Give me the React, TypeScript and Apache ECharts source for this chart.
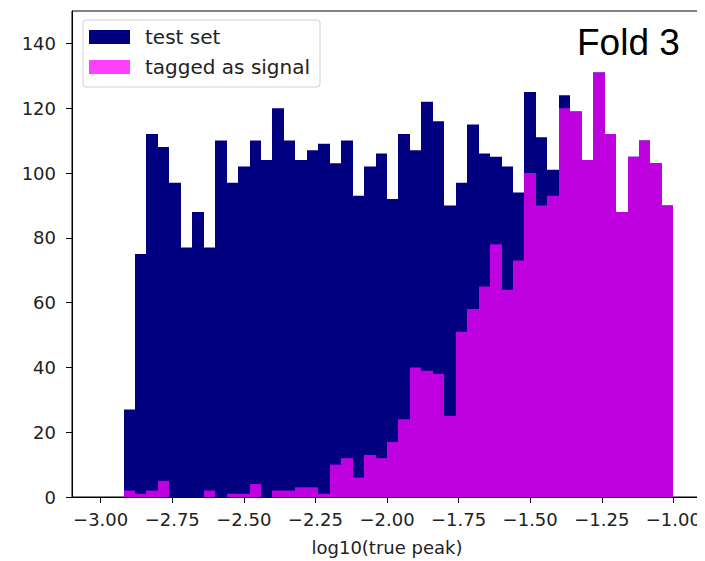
import React, { useEffect, useRef } from "react";
import * as echarts from "echarts";

// Histogram binning: 48 bins of width 0.04 starting at log10 = -2.92
const BIN_START = -2.92;
const BIN_WIDTH = 0.04;

// Counts per bin for the whole test set
const testSetCounts = [
  27, 75, 112, 108, 97, 77, 88, 77, 110, 97, 102, 110, 104, 120, 110, 104,
  107, 109, 103, 110, 93, 102, 106, 92, 112, 107, 122, 116, 90, 97, 115, 106,
  105, 102, 94, 125, 111, 101, 124, 119, 104, 131, 112, 88, 105, 110, 103, 90,
];

// Counts per bin for events tagged as signal
const signalCounts = [
  2, 1, 2, 5, 0, 0, 0, 2, 0, 1, 1, 4, 0, 2, 2, 3,
  3, 1, 10, 12, 6, 13, 12, 17, 24, 40, 39, 38, 25, 51, 58, 65,
  78, 64, 73, 100, 90, 93, 120, 119, 104, 131, 112, 88, 105, 110, 103, 90,
];

const xTicks = [-3.0, -2.75, -2.5, -2.25, -2.0, -1.75, -1.5, -1.25, -1.0];
const yTicks = [0, 20, 40, 60, 80, 100, 120, 140];

const FONT = "DejaVu Sans";
const TEXT = "#222";
const NAVY = "#000080";
// magenta at 75% opacity, as it appears over the navy bars and over white
const MAGENTA_ON_NAVY = "#bf00df";
const MAGENTA_ON_WHITE = "#ff40ff";

function toBins(counts: number[]) {
  return counts.map((c, i) => {
    const x0 = BIN_START + i * BIN_WIDTH;
    return [x0, x0 + BIN_WIDTH, c];
  });
}

function renderBin(params: any, api: any) {
  const x0 = api.value(0);
  const x1 = api.value(1);
  const c = api.value(2);
  const p0 = api.coord([x0, c]);
  const p1 = api.coord([x1, 0]);
  const left = Math.round(p0[0]);
  const right = Math.round(p1[0]);
  return {
    type: "rect",
    shape: { x: left, y: p0[1], width: right - left, height: p1[1] - p0[1] },
    style: { fill: api.visual("color") },
  };
}

export default function App() {
  const ref = useRef<HTMLDivElement>(null);

  useEffect(() => {
    if (!ref.current) return;
    const chart = echarts.init(ref.current, null, { renderer: "svg" });
    const fmt = (v: number) => v.toFixed(2).replace("-", "\u2212");
    chart.setOption({
      animation: false,
      grid: {
        left: 72,
        top: 11,
        right: 3,
        bottom: 62,
        show: true,
        borderColor: "#000",
        borderWidth: 1,
        backgroundColor: "transparent",
      },
      legend: {
        orient: "vertical",
        left: 83,
        top: 20,
        padding: [6, 10, 9, 6],
        itemWidth: 41,
        itemHeight: 14,
        itemGap: 8,
        icon: "rect",
        backgroundColor: "#fff",
        borderColor: "#d0d0d0",
        borderWidth: 1,
        borderRadius: 3,
        textStyle: {
          fontFamily: FONT,
          fontSize: 20,
          color: TEXT,
          lineHeight: 22,
          padding: [0, 0, 0, 10],
        },
        data: [
          { name: "test set", itemStyle: { color: NAVY } },
          { name: "tagged as signal", itemStyle: { color: MAGENTA_ON_WHITE } },
        ],
      },
      xAxis: {
        type: "value",
        min: -3.1,
        max: -0.9,
        name: "log10(true peak)",
        nameLocation: "middle",
        nameGap: 41,
        nameTextStyle: { fontFamily: FONT, fontSize: 18, color: TEXT },
        axisLine: { show: true, onZero: false, lineStyle: { color: "#000", width: 1 } },
        axisTick: { show: true, length: 6, customValues: xTicks, lineStyle: { color: "#000" } },
        axisLabel: {
          customValues: xTicks,
          formatter: fmt,
          fontFamily: FONT,
          fontSize: 18,
          color: TEXT,
          margin: 13,
        },
        splitLine: { show: false },
      },
      yAxis: {
        type: "value",
        min: 0,
        max: 150,
        axisLine: { show: true, lineStyle: { color: "#000", width: 1 } },
        axisTick: { show: true, length: 6, customValues: yTicks, lineStyle: { color: "#000" } },
        axisLabel: {
          customValues: yTicks,
          fontFamily: FONT,
          fontSize: 18,
          color: TEXT,
          margin: 16,
        },
        splitLine: { show: false },
      },
      graphic: [
        {
          type: "text",
          left: 577,
          top: 24,
          z: 100,
          style: {
            text: "Fold 3",
            fontFamily: "Liberation Sans",
            fontSize: 37,
            fill: "#000",
          },
        },
      ],
      series: [
        {
          name: "test set",
          type: "custom",
          renderItem: renderBin,
          itemStyle: { color: NAVY },
          encode: { x: [0, 1], y: 2 },
          data: toBins(testSetCounts),
          z: 1,
        },
        {
          name: "tagged as signal",
          type: "custom",
          renderItem: renderBin,
          itemStyle: { color: MAGENTA_ON_NAVY },
          encode: { x: [0, 1], y: 2 },
          data: toBins(signalCounts),
          z: 2,
        },
      ],
    });
    return () => chart.dispose();
  }, []);

  return <div ref={ref} style={{ width: 705, height: 561, marginLeft: -8, marginTop: -8 }} />;
}
